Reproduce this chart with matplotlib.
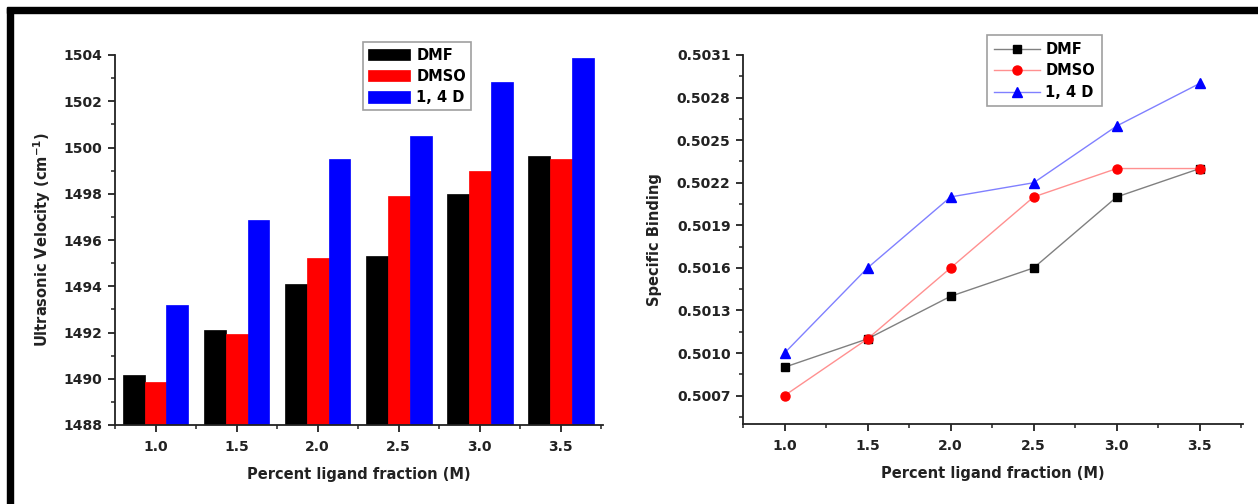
import numpy as np
import matplotlib
matplotlib.use("Agg")
import matplotlib.pyplot as plt
from matplotlib.patches import Rectangle
from matplotlib.ticker import MultipleLocator, FormatStrFormatter

# data
fractions = [1.0, 1.5, 2.0, 2.5, 3.0, 3.5]
series_names = ["DMF", "DMSO", "1, 4 D"]

velocity_dmf = [1490.15, 1492.1, 1494.1, 1495.3, 1498.0, 1499.65]
velocity_dmso = [1489.85, 1491.95, 1495.2, 1497.9, 1499.0, 1499.5]
velocity_14d = [1493.2, 1496.85, 1499.5, 1500.5, 1502.85, 1503.85]

binding_dmf = [0.5009, 0.5011, 0.5014, 0.5016, 0.5021, 0.5023]
binding_dmso = [0.5007, 0.5011, 0.5016, 0.5021, 0.5023, 0.5023]
binding_14d = [0.5010, 0.5016, 0.5021, 0.5022, 0.5026, 0.5029]

velocity_ticks = [1488, 1490, 1492, 1494, 1496, 1498, 1500, 1502, 1504]
binding_ticks = [0.5007, 0.5010, 0.5013, 0.5016, 0.5019, 0.5022, 0.5025, 0.5028, 0.5031]

plt.rcParams['font.family'] = ['DejaVu Sans']
plt.rcParams['font.weight'] = 'bold'

fig = plt.figure(figsize=(12.58, 5.04), dpi=100)
fig.patch.set_facecolor('white')

# black frame pieces (top and left only, like the scan)
fig.patches.append(Rectangle((7 / 1258, 1 - 13 / 504), 1, 6 / 504,
                             transform=fig.transFigure, color='black', zorder=10))
fig.patches.append(Rectangle((7 / 1258, 0), 6 / 1258, 1 - 8 / 504,
                             transform=fig.transFigure, color='black', zorder=10))

ax1 = fig.add_axes([115 / 1258, 1 - 425 / 504, 488 / 1258, 370 / 504])
ax2 = fig.add_axes([743 / 1258, 1 - 424 / 504, 500 / 1258, 369 / 504])

spine_col = '#222222'


def style_axes(ax):
    for side in ['top', 'right']:
        ax.spines[side].set_visible(False)
    for side in ['left', 'bottom']:
        ax.spines[side].set_linewidth(1.3)
        ax.spines[side].set_color(spine_col)
    ax.tick_params(which='major', direction='out', length=5, width=1.3,
                   color=spine_col, labelsize=10, labelcolor='#222222')
    ax.tick_params(which='minor', direction='out', length=3, width=1.1,
                   color=spine_col)
    ax.tick_params(axis='x', which='major', pad=6)
    ax.tick_params(axis='y', which='major', pad=4)
    ax.set_xlim(0.75, 3.76)
    ax.set_xticks(fractions)
    ax.xaxis.set_minor_locator(MultipleLocator(0.25))
    ax.xaxis.set_major_formatter(FormatStrFormatter('%.1f'))
    ax.set_xlabel("Percent ligand fraction (M)", fontsize=10.5,
                  fontweight='bold', color='#222222', labelpad=9)


# ---- left: grouped bars
bar_w = 0.135
x = np.array(fractions)
bar_cols = ['black', '#ff0000', '#0000ff']
for i, (vals, col) in enumerate(zip([velocity_dmf, velocity_dmso, velocity_14d], bar_cols)):
    ax1.bar(x + (i - 1) * bar_w, np.array(vals) - 1488, bottom=1488, width=bar_w,
            color=col, edgecolor=col, linewidth=0.5, label=series_names[i])

style_axes(ax1)
ax1.set_ylim(1488, 1504)
ax1.set_yticks(velocity_ticks)
ax1.yaxis.set_minor_locator(MultipleLocator(1))
ax1.set_ylabel("Ultrasonic Velocity (cm$^{\\mathbf{-1}}$)", fontsize=10.5,
               fontweight='bold', color='#222222')
ax1.yaxis.set_label_coords(-0.128, 0.5)

leg1 = ax1.legend(loc='upper left', bbox_to_anchor=(0.508, 1.034), fontsize=10.5,
                  frameon=True, fancybox=False, handlelength=2.9, handleheight=0.85,
                  handletextpad=0.4, labelspacing=0.42, borderpad=0.35,
                  borderaxespad=0)
leg1.get_frame().set_edgecolor('#888888')
leg1.get_frame().set_linewidth(1.2)

# ---- right: lines
line_cols = ['#808080', '#ff9090', '#8080ff']
mark_cols = ['black', '#ff0000', '#0000ff']
markers = ['s', 'o', '^']
msizes = [6, 6.5, 7.5]
for vals, lc, mc, m, ms, name in zip([binding_dmf, binding_dmso, binding_14d],
                                     line_cols, mark_cols, markers, msizes, series_names):
    ax2.plot(fractions, vals, color=lc, linewidth=1.0, marker=m, markersize=ms,
             markerfacecolor=mc, markeredgecolor=mc, label=name)

style_axes(ax2)
ax2.set_ylim(0.5005, 0.5031)
ax2.set_yticks(binding_ticks)
ax2.yaxis.set_minor_locator(MultipleLocator(0.00015))
ax2.yaxis.set_major_formatter(FormatStrFormatter('%.4f'))
ax2.set_ylabel("Specific Binding", fontsize=10.5, fontweight='bold', color='#222222')
ax2.yaxis.set_label_coords(-0.162, 0.5)

leg2 = ax2.legend(loc='upper left', bbox_to_anchor=(0.488, 1.054), fontsize=10.5,
                  frameon=True, fancybox=False, handlelength=3.2,
                  handletextpad=0.35, labelspacing=0.45, borderpad=0.45,
                  borderaxespad=0)
leg2.get_frame().set_edgecolor('#888888')
leg2.get_frame().set_linewidth(1.2)

fig.savefig("out.png", dpi=100, facecolor='white')
